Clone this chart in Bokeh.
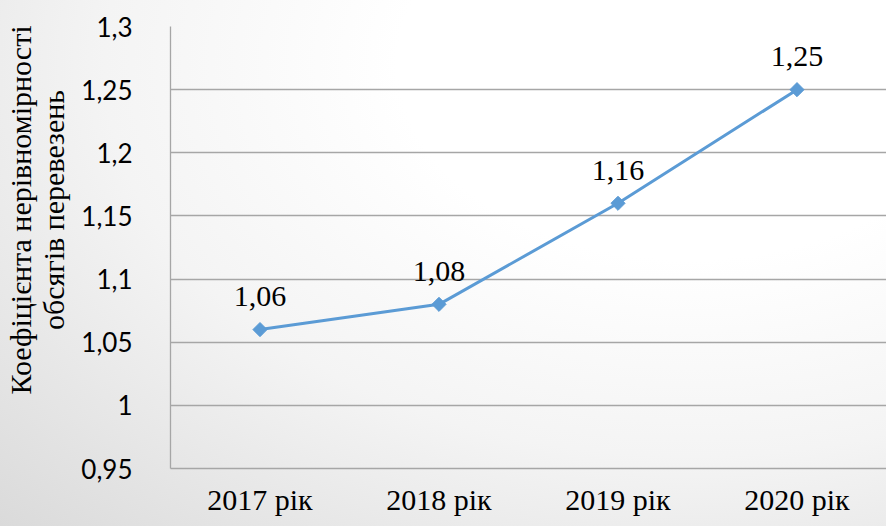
import math
from bokeh.plotting import figure
from bokeh.models import FixedTicker, Range1d
from bokeh.core.properties import value
from bokeh.embed import file_html
from bokeh.resources import INLINE

years = ["2017 рік", "2018 рік", "2019 рік", "2020 рік"]
coef = [1.06, 1.08, 1.16, 1.25]
coef_labels = ["1,06", "1,08", "1,16", "1,25"]
y_ticks = [0.95, 1.0, 1.05, 1.1, 1.15, 1.2, 1.25, 1.3]
y_tick_labels = ["0,95", "1", "1,05", "1,1", "1,15", "1,2", "1,25", "1,3"]
y_title_1 = "Коефіцієнта нерівномірності"
y_title_2 = "обсягів перевезень"

SERIF = "Liberation Serif"

p = figure(x_range=years, y_range=Range1d(0.95, 1.3), width=886, height=526,
           output_backend="svg", toolbar_location=None,
           min_border_left=170, min_border_right=0, min_border_top=26, min_border_bottom=58)

p.background_fill_alpha = 0
p.border_fill_alpha = 0
p.outline_line_color = None
p.styles = {"background": "radial-gradient(ellipse at 78% 12%, #ffffff 0%, #ffffff 30%, #f4f4f4 60%, #dadada 100%)"}

p.line(years, coef, line_color="#5B9BD5", line_width=3)
p.scatter(years, coef, marker="square", size=10, angle=math.pi / 4,
          fill_color="#5B9BD5", line_color="#5B9BD5")
p.text(years, coef, text=coef_labels, text_font=value(SERIF), text_font_size="30px",
       text_align="center", text_baseline="middle", y_offset=-33, text_color="#000000")

p.xgrid.grid_line_color = None
p.ygrid.grid_line_color = "#a6a6a6"
p.ygrid.grid_line_width = 1.3
p.ygrid.ticker = FixedTicker(ticks=y_ticks)

ya = p.yaxis[0]
ya.ticker = FixedTicker(ticks=y_ticks)
ya.major_label_overrides = {t: l for t, l in zip(y_ticks, y_tick_labels)}
ya.major_label_text_font = "Lato"
ya.major_label_text_font_size = "26px"
ya.major_label_text_color = "#000000"
ya.major_label_standoff = 32
ya.major_tick_line_color = None
ya.minor_tick_line_color = None
ya.axis_line_color = "#a6a6a6"
ya.axis_line_width = 1.3
pad = "\u00a0" * 10
ya.axis_label = pad + y_title_1 + "\n" + pad + y_title_2
ya.axis_label_text_font = SERIF
ya.axis_label_text_font_size = "30px"
ya.axis_label_text_font_style = "normal"
ya.axis_label_text_color = "#000000"
ya.axis_label_text_line_height = 1.0
ya.axis_label_standoff = 8

xa = p.xaxis[0]
xa.major_label_text_font = SERIF
xa.major_label_text_font_size = "30px"
xa.major_label_text_color = "#000000"
xa.major_label_standoff = 8
xa.major_tick_line_color = None
xa.minor_tick_line_color = None
xa.axis_line_color = "#a6a6a6"
xa.axis_line_width = 1.3

open("out.html", "w").write(file_html(p, INLINE))
